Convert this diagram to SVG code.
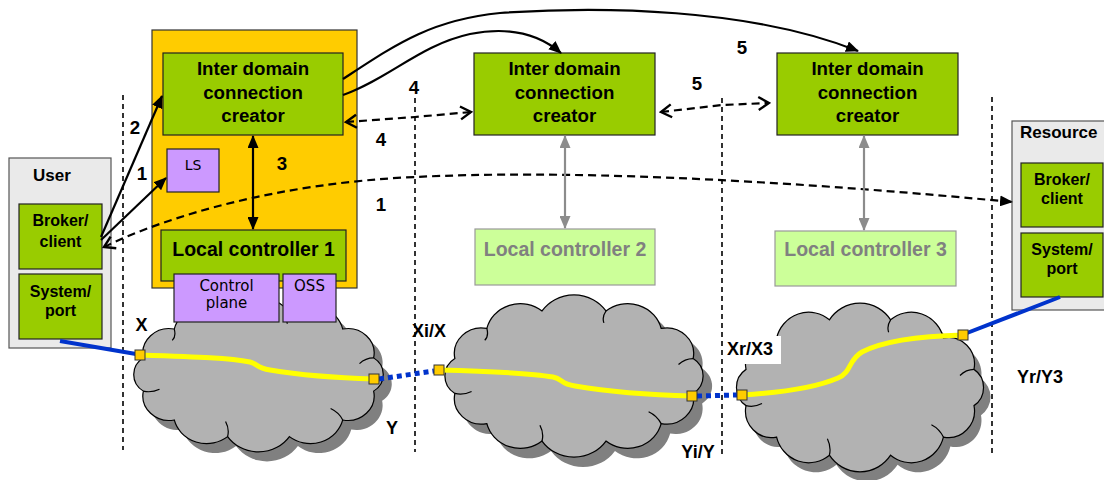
<svg xmlns="http://www.w3.org/2000/svg" xmlns:xlink="http://www.w3.org/1999/xlink" width="1104" height="480" viewBox="0 0 1104 480">
<style>
.t{font-family:"Liberation Sans",Arial,sans-serif;font-weight:bold;fill:#000}
.big{font-size:18.7px}
.mid{font-size:16px}
.lab{font-size:18px}
.v{font-family:"DejaVu Sans",Verdana,sans-serif;font-size:15px;fill:#000}
.green{fill:#99cc00;stroke:#222;stroke-width:1.2}
.lgreen{fill:#ccff99;stroke:#999;stroke-width:1.2}
.purple{fill:#cc99ff;stroke:#222;stroke-width:1.2}
.gbox{fill:#eaeaea;stroke:#555;stroke-width:1.2}
.cloud{fill:#b2b2b2;stroke:#000;stroke-width:1.2}
.shadow{fill:#808080;stroke:none}
.vdash{stroke:#000;stroke-width:1.6;stroke-dasharray:5 4;fill:none}
.solid{stroke:#000;stroke-width:2.2;fill:none}
.dash{stroke:#000;stroke-width:2.2;stroke-dasharray:8 5;fill:none}
.gray{stroke:#8c8c8c;stroke-width:2.2;fill:none}
.blue{stroke:#0033cc;stroke-width:4;fill:none}
.bdot{stroke:#0033cc;stroke-width:5;stroke-dasharray:5 4;fill:none}
.yel{stroke:#ffff00;stroke-width:5;fill:none}
.sq{fill:#ffcc00;stroke:#333;stroke-width:1}
</style>
<defs>
<path id="cloud" d="M114,17.6 A26,26 0 0 1 83.4,48.1 A33,33 0 0 1 30.6,65.7 A37,37 0 0 1 -30.6,65.7 A33,33 0 0 1 -83.4,48.1 A26,26 0 0 1 -114,17.6 A21,21 0 0 1 -114,-17.6 A26,26 0 0 1 -83.4,-48.1 A33,33 0 0 1 -30.6,-65.7 A37,37 0 0 1 30.6,-65.7 A33,33 0 0 1 83.4,-48.1 A26,26 0 0 1 114,-17.6 A21,21 0 0 1 114,17.6 Z"/>
<path id="cdetail" d="M83.4,48.1 q-4,-8 -12,-12 M-30.6,65.7 q2,-8 -2,-16 M-114,17.6 q8,2 16,-2 M-83.4,-48.1 q2,8 -2,12 M30.6,-65.7 q-4,6 -2,12 M114,-17.6 q-8,0 -14,6" fill="none" stroke="#000" stroke-width="1.2"/>
<marker id="tri" markerUnits="userSpaceOnUse" markerWidth="13" markerHeight="11" viewBox="0 0 13 11" refX="12" refY="5.5" orient="auto-start-reverse"><path d="M0,0 L13,5.5 L0,11 Z" fill="#000"/></marker>
<marker id="gtri" markerUnits="userSpaceOnUse" markerWidth="13" markerHeight="11" viewBox="0 0 13 11" refX="12" refY="5.5" orient="auto-start-reverse"><path d="M0,0 L13,5.5 L0,11 Z" fill="#8c8c8c"/></marker>
<marker id="chev" markerUnits="userSpaceOnUse" markerWidth="14" markerHeight="16" viewBox="0 0 14 16" refX="12" refY="8" orient="auto-start-reverse"><path d="M1.5,1.5 L12,8 L1.5,14.5" fill="none" stroke="#000" stroke-width="2.4"/></marker>
</defs>
<rect width="1104" height="480" fill="#fff"/>

<g id="separators">
<line class="vdash" x1="123" y1="95" x2="123" y2="450"/>
<line class="vdash" x1="415" y1="98" x2="415" y2="452"/>
<line class="vdash" x1="722" y1="98" x2="722" y2="455"/>
<line class="vdash" x1="992" y1="97" x2="992" y2="455"/>
</g>

<g id="cloud1">
<use xlink:href="#cloud" class="shadow" transform="translate(267,384) scale(1.01,0.945)"/>
<use xlink:href="#cloud" class="cloud" transform="translate(258.5,374.5) scale(1.01,0.945)"/>
<use xlink:href="#cdetail" transform="translate(258.5,374.5) scale(1.01,0.945)"/>
</g>
<g id="cloud2">
<use xlink:href="#cloud" class="shadow" transform="translate(583,386) scale(1.045,0.99)"/>
<use xlink:href="#cloud" class="cloud" transform="translate(574,376) scale(1.045,0.99)"/>
<use xlink:href="#cdetail" transform="translate(574,376) scale(1.045,0.99)"/>
</g>
<g id="cloud3">
<use xlink:href="#cloud" class="shadow" transform="translate(867,397) scale(1.0,1.03)"/>
<use xlink:href="#cloud" class="cloud" transform="translate(860,387.5) scale(1.0,1.03)"/>
<use xlink:href="#cdetail" transform="translate(860,387.5) scale(1.0,1.03)"/>
</g>

<g id="user">
<rect class="gbox" x="9" y="158" width="102" height="190"/>
<text class="t mid" x="33" y="181" style="font-size:17px">User</text>
<rect class="green" x="19" y="204" width="83" height="65"/>
<text class="t mid" x="60.5" y="226" text-anchor="middle">Broker/</text>
<text class="t mid" x="60.5" y="247" text-anchor="middle">client</text>
<rect class="green" x="19" y="274" width="83" height="65"/>
<text class="t mid" x="60.5" y="297" text-anchor="middle">System/</text>
<text class="t mid" x="60.5" y="316" text-anchor="middle">port</text>
</g>

<g id="domain1">
<rect x="152" y="30" width="205" height="258" fill="#ffcc00" stroke="#333" stroke-width="1.2"/>
</g>
<g id="idc1">
<rect class="green" x="163" y="53" width="180" height="82"/>
<text class="t big" x="253" y="75" text-anchor="middle">Inter domain</text>
<text class="t big" x="253" y="98.5" text-anchor="middle">connection</text>
<text class="t big" x="253" y="122" text-anchor="middle">creator</text>
</g>
<g id="ls">
<rect class="purple" x="167" y="149" width="52" height="43"/>
<text class="v" x="193" y="170" text-anchor="middle" style="font-size:14px">LS</text>
</g>
<g id="lc1">
<rect class="green" x="161" y="230" width="185" height="51"/>
<text class="t big" x="253.5" y="256" text-anchor="middle" style="font-size:19.5px">Local controller 1</text>
</g>
<g id="cp">
<rect class="purple" x="174" y="274" width="105" height="48"/>
<text class="v" x="226.5" y="291" text-anchor="middle">Control</text>
<text class="v" x="226.5" y="308" text-anchor="middle">plane</text>
</g>
<g id="oss">
<rect class="purple" x="283" y="274" width="53" height="48"/>
<text class="v" x="309.5" y="291" text-anchor="middle">OSS</text>
</g>

<g id="idc2">
<rect class="green" x="474" y="53" width="181" height="82"/>
<text class="t big" x="564.5" y="75" text-anchor="middle">Inter domain</text>
<text class="t big" x="564.5" y="98.5" text-anchor="middle">connection</text>
<text class="t big" x="564.5" y="122" text-anchor="middle">creator</text>
</g>
<g id="lc2">
<rect class="lgreen" x="475" y="229" width="180" height="56"/>
<text class="t big" x="565" y="256" text-anchor="middle" style="font-size:19.5px;fill:#808080">Local controller 2</text>
</g>
<g id="idc3">
<rect class="green" x="777" y="53" width="181" height="82"/>
<text class="t big" x="867.5" y="75" text-anchor="middle">Inter domain</text>
<text class="t big" x="867.5" y="98.5" text-anchor="middle">connection</text>
<text class="t big" x="867.5" y="122" text-anchor="middle">creator</text>
</g>
<g id="lc3">
<rect class="lgreen" x="775" y="231" width="181" height="55"/>
<text class="t big" x="865.5" y="256" text-anchor="middle" style="font-size:19.5px;fill:#808080">Local controller 3</text>
</g>

<g id="resource">
<rect class="gbox" x="1012" y="121" width="100" height="189"/>
<text class="t" x="1020" y="138" style="font-size:17px">Resource</text>
<rect class="green" x="1021" y="163" width="82" height="64"/>
<text class="t mid" x="1062" y="185" text-anchor="middle">Broker/</text>
<text class="t mid" x="1062" y="204" text-anchor="middle">client</text>
<rect class="green" x="1021" y="233" width="82" height="64"/>
<text class="t mid" x="1062" y="255" text-anchor="middle">System/</text>
<text class="t mid" x="1062" y="274" text-anchor="middle">port</text>
</g>

<g id="connectors">
<path class="solid" d="M101,237 L162,96" marker-end="url(#tri)"/>
<path class="solid" d="M101,240 L166,178" marker-end="url(#tri)"/>
<path class="solid" d="M253,136 L253,229" stroke-width="2.6" marker-start="url(#tri)" marker-end="url(#tri)"/>
<path class="solid" d="M343,79 C395,45 430,20 500,13 C600,6 750,8 858,51" marker-end="url(#tri)"/>
<path class="solid" d="M343,95 C390,78 420,45 470,34 C510,26 540,35 561,53" marker-end="url(#tri)"/>
<path class="dash" d="M346,122 L415,117 L471,112" marker-start="url(#chev)" marker-end="url(#chev)"/>
<path class="dash" d="M661,112 L722,105 L769,103" marker-start="url(#chev)" marker-end="url(#chev)"/>
<path class="dash" d="M104,247 C170,215 280,183 415,177 C560,170 760,178 1012,202" marker-start="url(#chev)" marker-end="url(#tri)"/>
<path class="gray" d="M565,136 L565,228" marker-start="url(#gtri)" marker-end="url(#gtri)"/>
<path class="gray" d="M864,136 L864,230" marker-start="url(#gtri)" marker-end="url(#gtri)"/>
<path class="blue" d="M60,341 L136,354"/>
<path class="bdot" d="M379,379 L434,371"/>
<path class="bdot" d="M697,396 L737,395"/>
<path class="blue" d="M967,333 L1060,297"/>
<path class="yel" d="M140,355 C200,357 230,358 250,362 C258,364 256,368 270,370 C300,375 340,378 374,379"/>
<path class="yel" d="M439,370 C480,371 530,373 553,377 C563,379 560,384 575,386 C610,392 650,395 692,396"/>
<path class="yel" d="M742,395 C775,393 815,388 838,378 C852,372 848,360 862,352 C885,340 925,336 963,335"/>
<rect class="sq" x="135" y="350" width="10" height="10"/>
<rect class="sq" x="369" y="374" width="10" height="10"/>
<rect class="sq" x="434" y="365" width="10" height="10"/>
<rect class="sq" x="687" y="391" width="10" height="10"/>
<rect class="sq" x="737" y="390" width="10" height="10"/>
<rect class="sq" x="958" y="330" width="10" height="10"/>
</g>

<g id="labels">
<text class="t big" x="135" y="134" text-anchor="middle">2</text>
<text class="t big" x="142" y="180" text-anchor="middle">1</text>
<text class="t big" x="282" y="170" text-anchor="middle">3</text>
<text class="t big" x="414" y="94" text-anchor="middle">4</text>
<text class="t big" x="381" y="146" text-anchor="middle">4</text>
<text class="t big" x="381" y="211" text-anchor="middle">1</text>
<text class="t big" x="697" y="90" text-anchor="middle">5</text>
<text class="t big" x="742" y="54" text-anchor="middle">5</text>
<text class="t lab" x="141.5" y="331" text-anchor="middle">X</text>
<text class="t lab" x="412" y="337">Xi/X</text>
<text class="t lab" x="392" y="434" text-anchor="middle">Y</text>
<text class="t lab" x="698" y="458" text-anchor="middle">Yi/Y</text>
<rect x="724" y="336" width="57" height="28" fill="#fff"/>
<text class="t lab" x="727" y="355">Xr/X3</text>
<text class="t lab" x="1017" y="383">Yr/Y3</text>
</g>
</svg>
